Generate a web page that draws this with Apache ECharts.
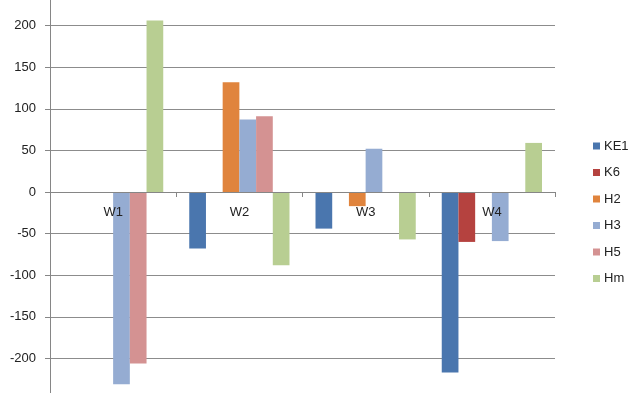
<!DOCTYPE html>
<html>
<head>
<meta charset="utf-8">
<script src="https://cdn.jsdelivr.net/npm/echarts@6/dist/echarts.min.js"></script>
<style>html,body{margin:0;padding:0;background:#fff}#c{width:640px;height:393px}</style>
</head>
<body>
<div id="c"></div>
<script>
var categories = ['W1', 'W2', 'W3', 'W4'];
var seriesNames = ['KE1', 'K6', 'H2', 'H3', 'H5', 'Hm'];
var KE1 = [null, -68, -44, -217];
var K6 = [null, null, null, -60];
var H2 = [null, 132, -17, null];
var H3 = [-231, 87, 52, -59];
var H5 = [-206, 91, null, null];
var Hm = [206, -88, -57, 59];
var yTicks = [-250, 250, 50];
var colors = ['#4A76AE', '#B5423F', '#E0843D', '#95ACD2', '#D49292', '#B8CE92'];

var values = [KE1, K6, H2, H3, H5, Hm];
var chart = echarts.init(document.getElementById('c'), null, {renderer: 'canvas'});
chart.setOption({
  animation: false,
  color: colors,
  textStyle: {fontFamily: 'Liberation Sans, Arial, sans-serif'},
  grid: {left: 50, right: 85, top: -16, bottom: -7, outerBoundsMode: 'none', containLabel: false},
  legend: {
    orient: 'vertical', left: 588, top: 134,
    itemWidth: 7, itemHeight: 7, itemGap: 12.5,
    icon: 'rect',
    textStyle: {fontSize: 13, color: '#222', padding: [0, 0, 0, -1], lineHeight: 14},
    data: seriesNames
  },
  xAxis: {
    type: 'category', data: categories, z: 10,
    offset: -208,
    axisLine: {onZero: false, lineStyle: {color: '#868686', width: 1}},
    axisTick: {show: true, length: 5, lineStyle: {color: '#868686'}},
    axisLabel: {fontSize: 13, color: '#222', margin: 14}
  },
  yAxis: {
    type: 'value', min: yTicks[0], max: yTicks[1], interval: yTicks[2],
    axisLine: {show: true, lineStyle: {color: '#868686', width: 1}},
    axisTick: {show: true, length: 5, lineStyle: {color: '#868686'}},
    axisLabel: {fontSize: 13, color: '#222', margin: 14},
    splitLine: {lineStyle: {color: '#8c8c8c', width: 1}}
  },
  series: seriesNames.map(function (n, i) {
    return {
      name: n, type: 'bar', data: values[i],
      barGap: '0%', barCategoryGap: '20.6%'
    };
  })
});
</script>
</body>
</html>
